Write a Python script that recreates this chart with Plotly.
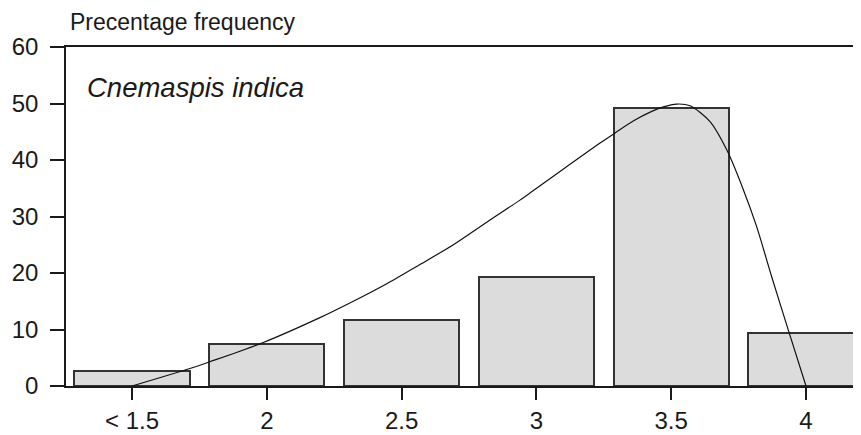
import plotly.graph_objects as go

# Data
bin_centers = [1.5, 2.0, 2.5, 3.0, 3.5, 4.0]
tick_labels = ["< 1.5", "2", "2.5", "3", "3.5", "4"]
pct_freq = [2.7, 7.5, 11.7, 19.3, 49.2, 9.4]

curve_x = [1.5, 1.715, 1.789, 1.987, 2.197, 2.321, 2.445, 2.568, 2.692, 2.816,
           2.939, 2.989, 3.112, 3.236, 3.292, 3.359, 3.428, 3.471, 3.52, 3.57,
           3.644, 3.706, 3.768, 3.817, 3.873, 3.935, 4.0]
curve_y = [0.0, 3.1, 4.3, 7.7, 12.1, 15.0, 18.1, 21.5, 25.0, 29.0,
           32.9, 34.6, 38.8, 43.0, 44.8, 46.9, 48.6, 49.4, 49.9, 49.6,
           46.8, 41.8, 34.7, 28.2, 19.3, 9.8, 0.0]

y_ticks = [0, 10, 20, 30, 40, 50, 60]

font_family = "Liberation Sans, Arial, sans-serif"
ink = "#1a1a1a"

fig = go.Figure()
fig.add_trace(go.Bar(
    x=bin_centers, y=pct_freq, width=0.427,
    marker=dict(color="#dcdcdc", line=dict(color="#333333", width=2)),
    showlegend=False, hoverinfo="skip",
))
fig.add_trace(go.Scatter(
    x=curve_x, y=curve_y, mode="lines",
    line=dict(color="#111111", width=1.2, shape="spline", smoothing=0.8),
    showlegend=False, hoverinfo="skip",
))

# the page has an 8px body margin, so the figure is drawn 8px smaller
fig.update_layout(
    width=853, height=427,
    margin=dict(l=58, r=0, t=39, b=49, autoexpand=False),
    paper_bgcolor="white", plot_bgcolor="white",
    font=dict(family=font_family, size=24, color=ink),
    bargap=0,
)
fig.update_xaxes(
    range=[1.2552, 4.2040],
    tickmode="array", tickvals=bin_centers, ticktext=tick_labels,
    ticks="outside", ticklen=12, tickwidth=1.5, tickcolor=ink,
    showline=True, linecolor=ink, linewidth=1.6, mirror=True,
    showgrid=False, zeroline=False, automargin=False,
    ticklabelstandoff=0,
)
fig.update_yaxes(
    range=[0, 60],
    tickmode="array", tickvals=y_ticks,
    ticks="outside", ticklen=14, tickwidth=1.5, tickcolor=ink,
    showline=True, linecolor=ink, linewidth=1.6, mirror=False,
    showgrid=False, zeroline=False, automargin=False,
    ticklabelstandoff=7,
)

fig.add_annotation(
    text="Precentage frequency", xref="paper", yref="paper",
    x=0, y=1, xanchor="left", yanchor="bottom", xshift=2, yshift=10,
    showarrow=False, font=dict(family=font_family, size=23, color=ink),
)
fig.add_annotation(
    text="<i>Cnemaspis indica</i>", xref="paper", yref="y",
    x=0, y=52.8, xanchor="left", yanchor="middle", xshift=19,
    showarrow=False, font=dict(family=font_family, size=27.5, color=ink),
)

fig.write_html("out.html")
